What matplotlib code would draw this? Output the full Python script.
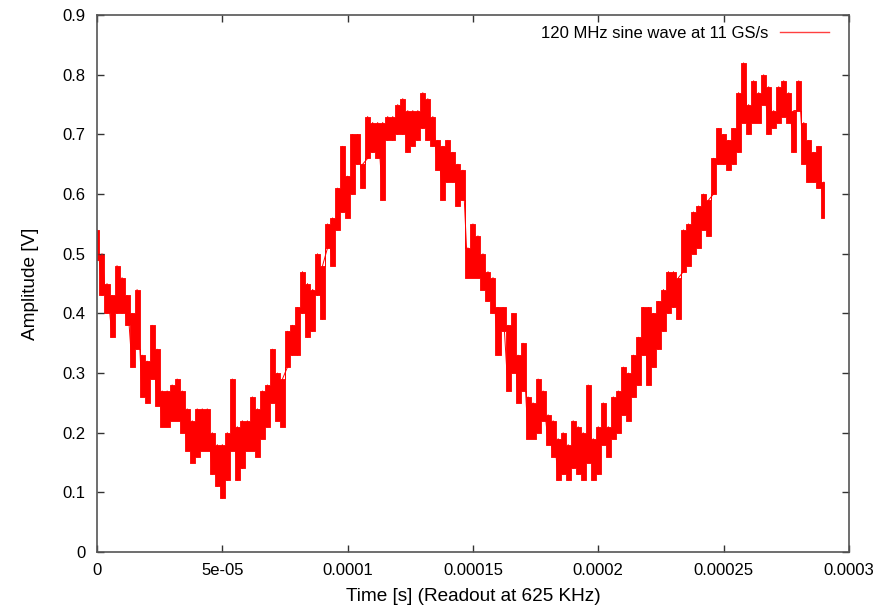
import numpy as np
import matplotlib
matplotlib.use("Agg")
import matplotlib.pyplot as plt

plt.rcParams['font.family'] = ['Liberation Sans', 'DejaVu Sans']

# Sample times in microseconds (one bin every 2 us)
time_us = np.arange(0, 292, 2)

# Upper envelope of the noisy trace [V]
amp_hi = [0.54, 0.50, 0.45, 0.43, 0.48, 0.46, 0.43, 0.40, 0.44, 0.33,
          0.32, 0.38, 0.34, 0.27, 0.27, 0.28, 0.29, 0.27, 0.24, 0.22,
          0.24, 0.24, 0.24, 0.20, 0.18, 0.18, 0.20, 0.29, 0.21, 0.22,
          0.22, 0.26, 0.24, 0.27, 0.28, 0.34, 0.30, 0.29, 0.37, 0.38,
          0.41, 0.47, 0.45, 0.44, 0.50, 0.48, 0.55, 0.56, 0.61, 0.68,
          0.63, 0.70, 0.70, 0.65, 0.73, 0.72, 0.72, 0.72, 0.73, 0.73,
          0.75, 0.76, 0.74, 0.74, 0.74, 0.77, 0.76, 0.73, 0.69, 0.68,
          0.69, 0.67, 0.65, 0.64, 0.51, 0.55, 0.53, 0.50, 0.47, 0.46,
          0.41, 0.41, 0.38, 0.40, 0.33, 0.35, 0.26, 0.25, 0.29, 0.27,
          0.23, 0.22, 0.19, 0.20, 0.18, 0.22, 0.21, 0.20, 0.28, 0.19,
          0.21, 0.25, 0.21, 0.26, 0.27, 0.31, 0.30, 0.33, 0.36, 0.41,
          0.41, 0.40, 0.42, 0.44, 0.47, 0.47, 0.46, 0.54, 0.55, 0.57,
          0.58, 0.60, 0.59, 0.66, 0.71, 0.70, 0.69, 0.71, 0.77, 0.82,
          0.75, 0.79, 0.77, 0.80, 0.78, 0.74, 0.78, 0.79, 0.77, 0.74,
          0.79, 0.72, 0.69, 0.67, 0.68, 0.62]

# Lower envelope of the noisy trace [V]
amp_lo = [0.49, 0.43, 0.40, 0.36, 0.40, 0.40, 0.38, 0.31, 0.34, 0.26,
          0.25, 0.29, 0.245, 0.21, 0.21, 0.22, 0.22, 0.20, 0.17, 0.15,
          0.16, 0.17, 0.17, 0.13, 0.11, 0.09, 0.12, 0.17, 0.12, 0.14,
          0.17, 0.17, 0.16, 0.19, 0.21, 0.25, 0.22, 0.21, 0.31, 0.33,
          0.33, 0.40, 0.36, 0.37, 0.43, 0.39, 0.51, 0.48, 0.54, 0.57,
          0.56, 0.60, 0.65, 0.61, 0.66, 0.67, 0.66, 0.59, 0.69, 0.69,
          0.70, 0.70, 0.67, 0.68, 0.69, 0.71, 0.69, 0.68, 0.64, 0.59,
          0.62, 0.62, 0.58, 0.59, 0.46, 0.46, 0.46, 0.44, 0.42, 0.40,
          0.33, 0.37, 0.27, 0.30, 0.25, 0.27, 0.19, 0.19, 0.20, 0.22,
          0.18, 0.16, 0.12, 0.13, 0.12, 0.14, 0.13, 0.12, 0.15, 0.12,
          0.13, 0.18, 0.16, 0.19, 0.20, 0.23, 0.22, 0.26, 0.28, 0.33,
          0.28, 0.31, 0.34, 0.37, 0.40, 0.41, 0.39, 0.47, 0.48, 0.50,
          0.51, 0.54, 0.53, 0.60, 0.65, 0.65, 0.64, 0.65, 0.67, 0.72,
          0.70, 0.72, 0.72, 0.75, 0.70, 0.71, 0.72, 0.73, 0.72, 0.67,
          0.74, 0.65, 0.62, 0.62, 0.61, 0.56]

x_ticks = [0, 5e-05, 0.0001, 0.00015, 0.0002, 0.00025, 0.0003]
x_tick_labels = ['0', '5e-05', '0.0001', '0.00015', '0.0002', '0.00025', '0.0003']
y_ticks = [0, 0.1, 0.2, 0.3, 0.4, 0.5, 0.6, 0.7, 0.8, 0.9]
y_tick_labels = ['0', '0.1', '0.2', '0.3', '0.4', '0.5', '0.6', '0.7', '0.8', '0.9']

t = np.array(time_us) * 1e-6
hi = np.array(amp_hi)
lo = np.array(amp_lo)

fig = plt.figure(figsize=(8.93, 6.05), dpi=100)
ax = fig.add_axes([0.1086, 0.0876, 0.842, 0.8874])

ax.fill_between(t, lo, hi, step='mid', color='#ff0000', linewidth=0.6,
                edgecolor='#ff0000')
# noisy trace: strokes between each bin's extremes
ax.plot(np.repeat(t, 2), np.ravel(np.column_stack([lo, hi])),
        color='#ff0000', linewidth=0.7)
ax.plot([], [], color='#ff4040', linewidth=1.0, label='120 MHz sine wave at 11 GS/s')

ax.set_xlim(0, 0.0003)
ax.set_ylim(0, 0.9)
ax.set_xticks(x_ticks)
ax.set_xticklabels(x_tick_labels)
ax.set_yticks(y_ticks)
ax.set_yticklabels(y_tick_labels)

ax.tick_params(direction='in', length=5, width=1, top=True, right=True,
               labelsize=12, colors='#000000', pad=8)
ax.tick_params(colors='#333333', which='both', labelcolor='#000000')
for s in ax.spines.values():
    s.set_color('#555555')
    s.set_linewidth(1.2)

ax.set_xlabel('Time [s] (Readout at 625 KHz)', fontsize=13.7, labelpad=7)
ax.set_ylabel('Amplitude [V]', fontsize=13.7, labelpad=17)

leg = ax.legend(loc='center right', frameon=False, markerfirst=False,
                fontsize=12, handlelength=2.95, borderaxespad=0.0,
                handletextpad=0.66, bbox_to_anchor=(0.982, 0.966))

fig.savefig('out.png', dpi=100)
